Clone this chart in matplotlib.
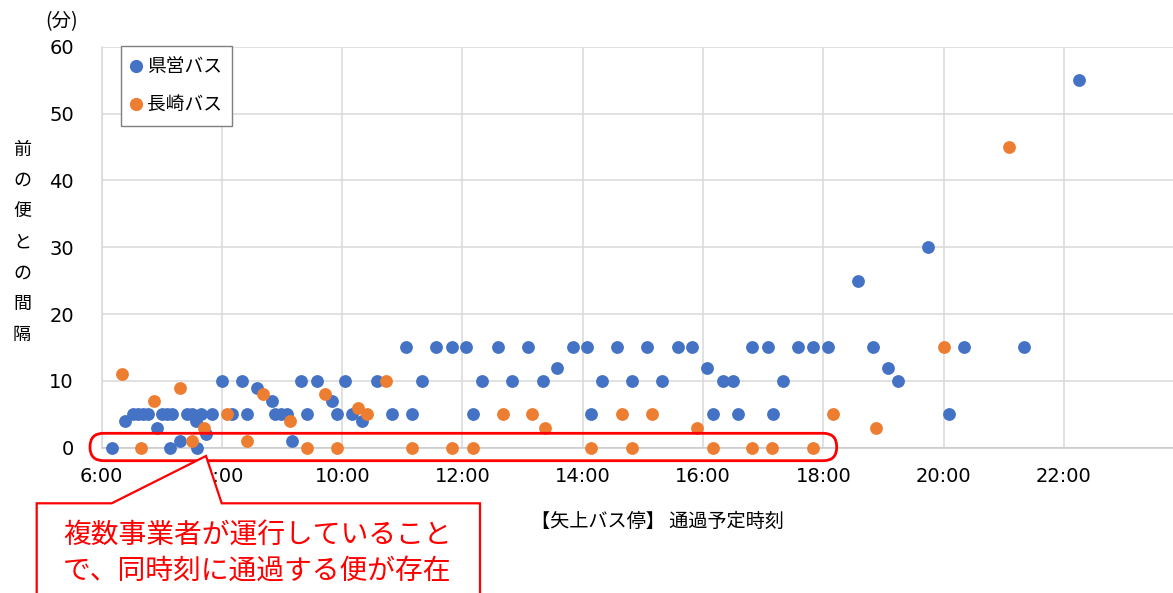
import matplotlib
matplotlib.use('Agg')
import matplotlib.pyplot as plt
from matplotlib.patches import FancyBboxPatch, PathPatch
from matplotlib.path import Path
from matplotlib.lines import Line2D

plt.rcParams['font.family'] = ['DejaVu Sans', 'Noto Sans CJK JP']
JP = ['Noto Sans CJK JP', 'DejaVu Sans']

series_names = ['県営バス', '長崎バス']
series_colors = ['#4472C4', '#ED7D31']

kenei_times = ['6:10', '6:23', '6:31', '6:36', '6:41', '6:46', '6:55', '7:00', '7:05', '7:10',
               '7:08', '7:18', '7:25', '7:30', '7:34', '7:35', '7:39', '7:44', '7:50', '8:00',
               '8:10', '8:20', '8:25', '8:35', '8:50', '8:53', '8:59', '9:05', '9:10', '9:19',
               '9:25', '9:35', '9:50', '9:55', '10:03', '10:10', '10:20', '10:35', '10:50', '11:04',
               '11:10', '11:20', '11:34', '11:50', '12:04', '12:10', '12:19', '12:35', '12:49', '13:05',
               '13:20', '13:34', '13:50', '14:04', '14:08', '14:19', '14:34', '14:49', '15:04', '15:19',
               '15:35', '15:49', '16:04', '16:10', '16:20', '16:30', '16:35', '16:49', '17:05', '17:10',
               '17:20', '17:35', '17:50', '18:05', '18:35', '18:50', '19:05', '19:15', '19:45', '20:05',
               '20:20', '21:20', '22:15']
kenei_gaps = [0, 4, 5, 5, 5, 5, 3, 5, 5, 5,
              0, 1, 5, 5, 4, 0, 5, 2, 5, 10,
              5, 10, 5, 9, 7, 5, 5, 5, 1, 10,
              5, 10, 7, 5, 10, 5, 4, 10, 5, 15,
              5, 10, 15, 15, 15, 5, 10, 15, 10, 15,
              10, 12, 15, 15, 5, 10, 15, 10, 15, 10,
              15, 15, 12, 5, 10, 10, 5, 15, 15, 5,
              10, 15, 15, 15, 25, 15, 12, 10, 30, 5,
              15, 15, 55]

nagasaki_times = ['6:20', '6:39', '6:52', '7:18', '7:30', '7:42', '8:05', '8:25', '8:41', '9:08',
                  '9:25', '9:43', '9:55', '10:16', '10:25', '10:44', '11:10', '11:50', '12:10', '12:40',
                  '13:09', '13:22', '14:08', '14:39', '14:49', '15:09', '15:54', '16:10', '16:49', '17:09',
                  '17:50', '18:10', '18:53', '20:00', '21:05']
nagasaki_gaps = [11, 0, 7, 9, 1, 3, 5, 1, 8, 4,
                 0, 8, 0, 6, 5, 10, 0, 0, 0, 5,
                 5, 3, 0, 5, 0, 5, 3, 0, 0, 0,
                 0, 5, 3, 15, 45]

x_tick_hours = [6, 8, 10, 12, 14, 16, 18, 20, 22]
y_ticks = [0, 10, 20, 30, 40, 50, 60]

x_label = '【矢上バス停】 通過予定時刻'
y_label = '前の便との間隔'
y_unit = '(分)'
callout_lines = ['複数事業者が運行していること', 'で、同時刻に通過する便が存在']


def to_hours(t):
    h, m = t.split(':')
    return int(h) + int(m) / 60.0


W, H = 1173, 593
fig = plt.figure(figsize=(W / 100, H / 100), dpi=100)


def fx(px):
    return px / W


def fy(py):
    return 1 - py / H


left_px, top_px, bottom_px = 101.7, 46.7, 447.7
px_per_hour = 60.13
ax = fig.add_axes([fx(left_px), fy(bottom_px), 1 - fx(left_px), fy(top_px) - fy(bottom_px)])
ax.set_xlim(6, 6 + (W - left_px) / px_per_hour)
ax.set_ylim(0, 60)

grid_c = '#D9D9D9'
ax.set_xticks(x_tick_hours)
ax.set_xticklabels([f'{h}:00' for h in x_tick_hours])
ax.set_yticks(y_ticks)
ax.grid(True, color=grid_c, linewidth=1.1)
ax.set_axisbelow(True)
for s in ['top', 'right']:
    ax.spines[s].set_visible(False)
ax.spines['left'].set_color(grid_c)
ax.spines['left'].set_linewidth(1.1)
ax.spines['bottom'].set_color('#C8C8C8')
ax.spines['bottom'].set_linewidth(1.1)
ax.tick_params(axis='both', length=0, labelsize=14, colors='black')
ax.tick_params(axis='x', pad=14)
ax.tick_params(axis='y', pad=20)

ax.scatter([to_hours(t) for t in kenei_times], kenei_gaps, s=85, color=series_colors[0],
           linewidths=0, clip_on=False, zorder=3)
ax.scatter([to_hours(t) for t in nagasaki_times], nagasaki_gaps, s=85, color=series_colors[1],
           linewidths=0, clip_on=False, zorder=4)

handles = [Line2D([], [], linestyle='none', marker='o', markersize=9.5, markeredgewidth=0,
                  color=c) for c in series_colors]
leg = ax.legend(handles, series_names, loc='upper left', bbox_to_anchor=(fx(120.7), fy(46)),
                bbox_transform=fig.transFigure, borderaxespad=0, fancybox=False, framealpha=1,
                edgecolor='#7F7F7F', prop={'family': JP, 'size': 13.5}, handletextpad=0.3,
                handlelength=0.55, labelspacing=0.9, borderpad=0.55)
leg.get_frame().set_linewidth(1.0)

# axis texts
fig.text(fx(657), fy(521), x_label, ha='center', va='center', fontsize=13.8, family=JP)
fig.text(fx(62), fy(22), y_unit, ha='center', va='center', fontsize=14, family=JP)
for i, ch in enumerate(y_label):
    fig.text(fx(22), fy(150 + i * 30.8), ch, ha='center', va='center', fontsize=13, family=JP)

# highlight rounded rectangle (inches coordinates)
red = '#FF0000'
tr = fig.dpi_scale_trans
rr = FancyBboxPatch((90 / 100, (H - 460.7) / 100), (836.7 - 90) / 100, (460.7 - 433.3) / 100,
                    boxstyle='round,pad=0,rounding_size=0.135', transform=tr,
                    fill=False, edgecolor=red, linewidth=2.0, zorder=6)
fig.add_artist(rr)

# callout
pts = [(36.7, 503.3), (111.7, 503.3), (206, 456), (221.7, 503.3), (480, 503.3),
       (480, 620), (36.7, 620), (36.7, 503.3)]
verts = [(x / 100, (H - y) / 100) for x, y in pts]
codes = [Path.MOVETO] + [Path.LINETO] * (len(verts) - 2) + [Path.CLOSEPOLY]
callout = PathPatch(Path(verts, codes), transform=tr, facecolor='white', edgecolor=red,
                    linewidth=1.6, zorder=7, clip_on=False)
fig.add_artist(callout)
for i, line in enumerate(callout_lines):
    fig.text(fx(63), fy(536 + i * 35), line, ha='left', va='center', fontsize=20,
             color=red, family=JP, zorder=8)

fig.savefig('out.png', dpi=100)
